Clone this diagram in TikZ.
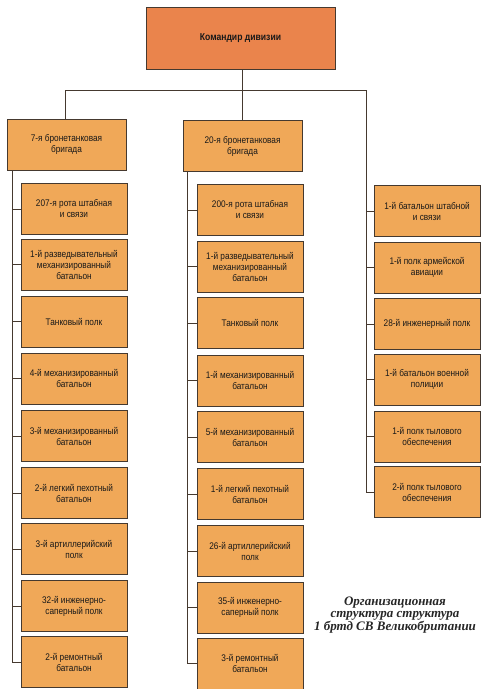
\documentclass[tikz,border=0pt]{standalone}
\usepackage{fontspec}
\setmainfont{Liberation Sans}
\newfontfamily\boxfont[FakeStretch=0.86]{Liberation Sans}
\newfontfamily\capfont{Liberation Serif}
\definecolor{unitfill}{HTML}{F0A858}
\definecolor{headfill}{HTML}{EA844C}
\definecolor{edge}{HTML}{45392F}
\tikzset{
  unit/.style={draw=edge, line width=1pt, fill=unitfill, minimum width=106pt,
    minimum height=51pt, inner sep=0pt, align=center,
    font=\boxfont\fontsize{9.6}{11}\selectfont, text=black!90},
  brigade/.style={unit, minimum width=119pt},
  chief/.style={unit, fill=headfill, minimum width=189pt, minimum height=62pt,
    font=\boxfont\bfseries\fontsize{10}{12}\selectfont},
  link/.style={draw=edge, line width=1pt},
  caption/.style={align=center, font=\capfont\bfseries\itshape\fontsize{13}{12.5}\selectfont,
    text=black!85}
}
\begin{document}
\begin{tikzpicture}[x=1pt, y=-1pt]
  \useasboundingbox (0,0) rectangle (481,689);
  \fill[white] (0,0) rectangle (481,689);

  % head of the division
  \node[chief] (cmd) at (240.5,38) {Командир дивизии};

  % brigades
  \node[brigade] (b7) at (66.5,144.5) {7-я бронетанковая\\бригада};
  \node[brigade] (b20) at (242.5,146) {20-я бронетанковая\\бригада};

  % 7th armoured brigade
  \node[unit] (l1) at (74,209) {207-я рота штабная\\и связи};
  \node[unit] (l2) at (74,264.5) {1-й разведывательный\\механизированный\\батальон};
  \node[unit] (l3) at (74,321.5) {Танковый полк};
  \node[unit] (l4) at (74,378.5) {4-й механизированный\\батальон};
  \node[unit] (l5) at (74,436) {3-й механизированный\\батальон};
  \node[unit] (l6) at (74,493) {2-й легкий пехотный\\батальон};
  \node[unit] (l7) at (74,549) {3-й артиллерийский\\полк};
  \node[unit] (l8) at (74,606) {32-й инженерно-\\саперный полк};
  \node[unit] (l9) at (74,662) {2-й ремонтный\\батальон};

  % 20th armoured brigade
  \node[unit] (m1) at (250,210) {200-я рота штабная\\и связи};
  \node[unit] (m2) at (250,266.5) {1-й разведывательный\\механизированный\\батальон};
  \node[unit] (m3) at (250,323) {Танковый полк};
  \node[unit] (m4) at (250,380.5) {1-й механизированный\\батальон};
  \node[unit] (m5) at (250,437) {5-й механизированный\\батальон};
  \node[unit] (m6) at (250,494) {1-й легкий пехотный\\батальон};
  \node[unit] (m7) at (250,551) {26-й артиллерийский\\полк};
  \node[unit] (m8) at (250,607.5) {35-й инженерно-\\саперный полк};
  \node[unit] (m9) at (250,663.5) {3-й ремонтный\\батальон};

  % divisional troops
  \node[unit] (r1) at (427,211) {1-й батальон штабной\\и связи};
  \node[unit] (r2) at (427,267.5) {1-й полк армейской\\авиации};
  \node[unit] (r3) at (427,324) {28-й инженерный полк};
  \node[unit] (r4) at (427,379.5) {1-й батальон военной\\полиции};
  \node[unit] (r5) at (427,436.5) {1-й полк тылового\\обеспечения};
  \node[unit] (r6) at (427,492) {2-й полк тылового\\обеспечения};

  % spines and bus
  \coordinate (bus) at (0,90);
  \coordinate (lsp) at (12,0);
  \coordinate (msp) at (187,0);
  \coordinate (rsp) at (366,0);
  \coordinate (lbr) at (65,0);

  \draw[link] (cmd.south -| b20) -- (bus -| b20);
  \draw[link] (b7.north -| lbr) |- (bus -| rsp) |- (r6.west);
  \draw[link] (bus -| b20) -- (b20.north -| b20);

  \draw[link] (b7.south -| lsp) |- (l9.west);
  \foreach \n in {l1,l2,l3,l4,l5,l6,l7,l8}
    \draw[link] (\n.west -| lsp) -- (\n.west);

  \draw[link] (b20.south -| msp) |- (m9.west);
  \foreach \n in {m1,m2,m3,m4,m5,m6,m7,m8}
    \draw[link] (\n.west -| msp) -- (\n.west);

  \foreach \n in {r1,r2,r3,r4,r5}
    \draw[link] (\n.west -| rsp) -- (\n.west);

  % caption
  \node[caption] (cap) at (395,615) {Организационная\\структура структура\\1 бртд СВ Великобритании};
\end{tikzpicture}
\end{document}
